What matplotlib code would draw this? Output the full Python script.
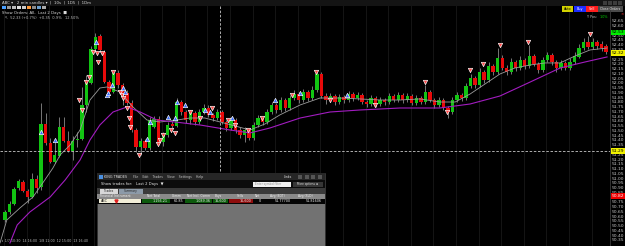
import matplotlib
matplotlib.use("Agg")
import matplotlib.pyplot as plt
from matplotlib.patches import Rectangle
import numpy as np

# ---------------- data ----------------
opens = [50.565, 50.649, 50.733, 50.901, 50.964, 50.870, 50.807, 50.996, 50.912, 51.573,
         51.374, 51.174, 51.237, 51.542, 51.395, 51.290, 51.405, 51.416, 51.773, 52.004,
         52.361, 52.497, 52.329, 52.014, 51.909, 52.109, 51.983, 51.899, 51.794, 51.510,
         51.332, 51.395, 51.321, 51.542, 51.626, 51.384, 51.458, 51.573, 51.552, 51.804,
         51.699, 51.615, 51.689, 51.594, 51.699, 51.741, 51.668, 51.636, 51.699, 51.594,
         51.531, 51.615, 51.510, 51.458, 51.510, 51.426, 51.563, 51.636, 51.594, 51.699,
         51.773, 51.720, 51.825, 51.741, 51.846, 51.888, 51.825, 51.909, 51.846, 51.930,
         52.098, 51.867, 51.825, 51.867, 51.804, 51.857, 51.825, 51.888, 51.846, 51.878,
         51.804, 51.783, 51.846, 51.783, 51.825, 51.804, 51.867, 51.825, 51.878, 51.825,
         51.867, 51.794, 51.846, 51.804, 51.909, 51.825, 51.773, 51.825, 51.741, 51.699,
         51.825, 51.878, 51.846, 51.972, 52.056, 51.983, 52.119, 52.035, 52.182, 52.119,
         52.266, 52.161, 52.119, 52.224, 52.161, 52.245, 52.182, 52.287, 52.203, 52.140,
         52.245, 52.298, 52.224, 52.161, 52.214, 52.161, 52.224, 52.277, 52.371, 52.434,
         52.382, 52.434, 52.413, 52.392]
closes = [50.649, 50.733, 50.891, 50.975, 50.870, 50.807, 50.996, 50.901, 51.573, 51.374,
          51.174, 51.248, 51.542, 51.395, 51.290, 51.395, 51.416, 51.773, 52.004, 52.361,
          52.487, 52.350, 52.014, 51.909, 52.109, 51.983, 51.878, 51.794, 51.510, 51.332,
          51.395, 51.321, 51.615, 51.626, 51.384, 51.458, 51.563, 51.552, 51.804, 51.699,
          51.615, 51.689, 51.594, 51.699, 51.741, 51.668, 51.636, 51.699, 51.594, 51.531,
          51.615, 51.510, 51.458, 51.510, 51.426, 51.563, 51.636, 51.594, 51.699, 51.773,
          51.720, 51.825, 51.741, 51.846, 51.888, 51.825, 51.909, 51.846, 51.930, 52.098,
          51.867, 51.825, 51.867, 51.804, 51.857, 51.825, 51.888, 51.846, 51.878, 51.804,
          51.783, 51.846, 51.783, 51.825, 51.804, 51.867, 51.825, 51.878, 51.825, 51.867,
          51.794, 51.846, 51.804, 51.909, 51.825, 51.773, 51.825, 51.741, 51.699, 51.825,
          51.878, 51.846, 51.972, 52.056, 51.983, 52.119, 52.035, 52.182, 52.119, 52.266,
          52.161, 52.119, 52.224, 52.161, 52.245, 52.182, 52.287, 52.203, 52.140, 52.245,
          52.298, 52.224, 52.161, 52.214, 52.161, 52.224, 52.287, 52.371, 52.434, 52.382,
          52.434, 52.392, 52.371, 52.329]
highs = [50.670, 50.765, 50.912, 50.996, 50.985, 50.891, 51.059, 51.038, 51.794, 51.689,
         51.426, 51.405, 51.647, 51.647, 51.500, 51.447, 51.489, 51.962, 52.088, 52.392,
         52.529, 52.518, 52.350, 52.035, 52.140, 52.140, 52.004, 51.930, 51.825, 51.531,
         51.426, 51.416, 51.647, 51.657, 51.657, 51.489, 51.594, 51.605, 51.846, 51.825,
         51.720, 51.720, 51.710, 51.731, 51.783, 51.773, 51.689, 51.731, 51.720, 51.615,
         51.647, 51.636, 51.542, 51.542, 51.531, 51.594, 51.668, 51.657, 51.731, 51.804,
         51.794, 51.857, 51.846, 51.878, 51.930, 51.909, 51.941, 51.930, 51.972, 52.140,
         52.119, 51.899, 51.899, 51.888, 51.888, 51.878, 51.920, 51.909, 51.909, 51.899,
         51.825, 51.878, 51.867, 51.857, 51.846, 51.899, 51.888, 51.909, 51.899, 51.899,
         51.888, 51.878, 51.867, 51.983, 51.930, 51.846, 51.857, 51.846, 51.762, 51.857,
         51.909, 51.899, 52.004, 52.098, 52.077, 52.161, 52.140, 52.224, 52.203, 52.371,
         52.298, 52.193, 52.266, 52.245, 52.287, 52.266, 52.403, 52.308, 52.224, 52.277,
         52.329, 52.319, 52.245, 52.245, 52.235, 52.266, 52.329, 52.413, 52.476, 52.497,
         52.476, 52.455, 52.445, 52.413]
lows = [50.544, 50.628, 50.723, 50.880, 50.859, 50.744, 50.796, 50.849, 50.880, 51.353,
        51.164, 51.164, 51.227, 51.384, 51.279, 51.195, 51.332, 51.405, 51.699, 51.993,
        52.350, 52.329, 52.004, 51.867, 51.899, 51.951, 51.773, 51.773, 51.489, 51.279,
        51.248, 51.300, 51.300, 51.531, 51.363, 51.342, 51.437, 51.531, 51.542, 51.668,
        51.584, 51.573, 51.563, 51.573, 51.678, 51.647, 51.605, 51.615, 51.573, 51.500,
        51.510, 51.479, 51.426, 51.384, 51.405, 51.405, 51.542, 51.563, 51.573, 51.678,
        51.689, 51.699, 51.710, 51.720, 51.825, 51.794, 51.804, 51.815, 51.825, 51.909,
        51.846, 51.783, 51.804, 51.773, 51.783, 51.794, 51.804, 51.815, 51.825, 51.783,
        51.752, 51.762, 51.752, 51.762, 51.773, 51.783, 51.804, 51.804, 51.794, 51.804,
        51.773, 51.773, 51.783, 51.783, 51.804, 51.741, 51.752, 51.720, 51.636, 51.678,
        51.804, 51.815, 51.825, 51.951, 51.951, 51.962, 52.004, 52.014, 52.088, 52.098,
        52.140, 52.088, 52.098, 52.130, 52.140, 52.151, 52.161, 52.182, 52.109, 52.119,
        52.224, 52.193, 52.119, 52.140, 52.140, 52.140, 52.203, 52.266, 52.350, 52.361,
        52.361, 52.361, 52.340, 52.308]

# moving-average lines (bar position, price)
ma_fast_x = [-1.1, 0.4, 3.3, 6.2, 8.8, 10.6, 12.2, 14.4, 16.6, 18.8, 21.0, 22.6, 25.4, 28.3,
             31.4, 34.3, 38.1, 40.9, 44.2, 47.6, 50.9, 54.2, 57.5, 60.8, 65.3, 69.7, 74.1,
             78.5, 83.0, 87.4, 91.8, 96.2, 99.6, 102.9, 106.2, 109.5, 112.8, 116.2, 119.5,
             122.8, 126.1, 129.4, 133.2]
ma_fast_y = [50.324, 50.565, 50.691, 50.807, 50.985, 51.111, 51.248, 51.353, 51.510, 51.825,
             51.951, 51.962, 51.909, 51.752, 51.615, 51.594, 51.615, 51.636, 51.636, 51.594,
             51.552, 51.510, 51.573, 51.668, 51.773, 51.846, 51.846, 51.836, 51.825, 51.825,
             51.836, 51.804, 51.804, 51.888, 51.993, 52.098, 52.161, 52.193, 52.214, 52.214,
             52.287, 52.350, 52.371]
ma_slow_x = [1.1, 2.7, 5.5, 10.0, 13.3, 16.6, 18.8, 21.0, 23.9, 27.0, 29.9, 33.6, 37.6, 43.1,
             49.8, 54.2, 58.6, 65.3, 71.9, 78.5, 87.4, 96.2, 102.9, 109.5, 116.2, 122.8,
             128.3, 133.2]
ma_slow_y = [50.324, 50.513, 50.649, 50.807, 50.985, 51.195, 51.405, 51.563, 51.699, 51.752,
             51.699, 51.615, 51.594, 51.563, 51.510, 51.479, 51.531, 51.636, 51.699, 51.720,
             51.741, 51.741, 51.783, 51.867, 52.014, 52.161, 52.224, 52.277]

# executions
sell_x = [16.4, 17.0, 17.9, 18.6, 19.5, 20.4, 21.5, 20.6, 23.9, 25.4, 25.9, 26.1, 27.0, 27.4,
          27.7, 29.6, 33.8, 34.3, 35.0, 36.7, 37.6, 40.9, 43.1, 45.8, 49.3, 50.9, 53.8, 56.9,
          63.5, 68.8, 71.9, 81.9, 92.9, 97.8, 102.9, 105.8, 109.5, 115.7, 129.4]
sell_y = [51.825, 51.720, 52.014, 52.067, 52.329, 52.319, 52.319, 52.224, 52.119, 51.909,
          51.878, 51.846, 51.741, 51.636, 51.542, 51.248, 51.363, 51.405, 51.458, 51.510,
          51.479, 51.699, 51.636, 51.741, 51.615, 51.563, 51.510, 51.636, 51.878, 52.119,
          51.825, 51.773, 52.014, 51.699, 52.140, 52.203, 52.403, 52.434, 52.518]
buy_x = [8.0, 11.1, 20.1, 22.6, 22.8, 23.7, 26.1, 26.5, 31.4, 32.1, 36.1, 37.6, 38.1, 39.8,
         44.2, 45.4, 50.2, 59.7, 65.3, 75.7]
buy_y = [51.489, 51.405, 52.434, 51.878, 51.899, 51.983, 51.951, 51.909, 51.416, 51.594,
         51.647, 51.636, 51.804, 51.773, 51.720, 51.699, 51.636, 51.825, 51.899, 51.878]

price_ticks = [round(50.35 + 0.05 * k, 2) for k in range(47)]
flag_prices = [52.534, 52.319, 51.290, 50.817]
flag_colors = ['#00ee00', '#f2f200', '#f2f200', '#ee0000']
flag_text = ['#000000', '#000000', '#000000', '#ffffff']

time_labels = "1/7 10:30  14 16:00  1/8 11:00  12 15:00  13 16:40"

trade_cols = ["Financial Instrument", "Net Total", "Comm", "Net Incl. Comm", "Buys", "Sells",
              "Net", "Avg (BOT)", "Avg (SLD)"]
trade_row = ["ABC", "1,156.21", "60.85", "1,089.36", "16,600", "16,600", "0",
             "51.77700", "51.81606"]

assert len(opens) == len(closes) == len(highs) == len(lows)

# ---------------- figure ----------------
W, H = 625, 246
fig = plt.figure(figsize=(W / 100, H / 100), dpi=100, facecolor='black')
plt.rcParams['font.family'] = ['DejaVu Sans']

ax = fig.add_axes([0, 0, 610 / W, 1])
ax.set_facecolor('black')
n = len(opens)
idx = np.arange(n)
ax.set_xlim(-5 / 4.52, 605 / 4.52)
ax.set_ylim(52.875 - 0.0105 * H, 52.875)
for s in ax.spines.values():
    s.set_visible(False)
ax.set_xticks([])
ax.set_yticks([])

# faint vertical grid
for gx in np.arange(-0.2, n + 1, 5):
    ax.axvline(gx, color='#191919', lw=0.6, zorder=0)

o = np.array(opens); c = np.array(closes)
up = c >= o
cols = np.where(up, '#12c412', '#e80a0a')
ax.vlines(idx, lows, highs, color='#8a8a8a', lw=0.6, zorder=2)
body = np.where(np.abs(c - o) < 0.006, 0.006, c - o)
ax.bar(idx, body, bottom=o, width=0.74, color=cols, linewidth=0, zorder=3)

ax.plot(ma_fast_x, ma_fast_y, color='#9c9c9c', lw=0.6, zorder=4)
ax.plot(ma_slow_x, ma_slow_y, color='#a21cc0', lw=0.8, zorder=4)

ax.plot(sell_x, sell_y, linestyle='none', marker='v', ms=3.2, mfc='#ff4a4a',
        mec='#ffffff', mew=0.45, zorder=6)
ax.plot(buy_x, buy_y, linestyle='none', marker='^', ms=3.2, mfc='#3a6cff',
        mec='#ffffff', mew=0.45, zorder=6)

# crosshair horizontal
ax.axhline(51.290, color='#c8c8c8', lw=0.6, dashes=(3, 2), zorder=5)

# price axis labels
yt = ax.get_yaxis_transform()
for p in price_ticks:
    if min(abs(p - f) for f in flag_prices) < 0.03:
        continue
    ax.text(1.0035, p, f"{p:.2f}", transform=yt, color='#c8c8c8', fontsize=3.2,
            va='center', ha='left', clip_on=False)
for p, fc, tc in zip(flag_prices, flag_colors, flag_text):
    ax.text(1.0035, p, f"{p:.2f}", transform=yt, color=tc, fontsize=3.2, va='center',
            ha='left', clip_on=False, zorder=7,
            bbox=dict(boxstyle='square,pad=0.2', fc=fc, ec='none'))

# ---------------- UI overlay in pixel coordinates ----------------
ui = fig.add_axes([0, 0, 1, 1], zorder=10)
ui.set_xlim(0, W)
ui.set_ylim(H, 0)
ui.axis('off')
ui.patch.set_alpha(0)

def box(x0, y0, x1, y1, fc, ec='none', lw=0.0, z=1):
    ui.add_patch(Rectangle((x0, y0), x1 - x0, y1 - y0, fc=fc, ec=ec, lw=lw, zorder=z))

def txt(x, y, s, color='#d0d0d0', size=3.0, ha='left', z=3, **kw):
    ui.text(x, y, s, color=color, fontsize=size, ha=ha, va='center', zorder=z, **kw)

# axis separator
ui.plot([610, 610], [6, H], color='#3a3a3a', lw=0.6)
# top bar
box(0, 0, W, 5.5, '#141414')
txt(2, 2.8, "ABC ▾   2 min candles ▾  |  10s  |  1D5  |  1Dm", size=2.8, color='#d8d8d8')
for k, colr in enumerate(['#4aa0ff', '#9a9a9a', '#bbbbbb', '#dddddd', '#cccccc', '#ff9a3a',
                          '#8a8a8a', '#6aa0d0', '#aaaaaa']):
    box(2 + k * 5, 5.8, 5.5 + k * 5, 9.2, colr, z=2)
txt(2, 13, "Show Orders: All,  Last 2 Days  ■", size=2.8, color='#d8d8d8')
txt(5, 18, "↖  52.33 (+0.7%)  +0.35  0.9%   12.50%", size=2.6, color='#bdbdbd')
for k in range(4):
    box(603 + k * 5, 1, 606.5 + k * 5, 4.5, '#3c3c3c', z=2)

# order buttons
box(562, 6, 573, 11.5, '#d2d200')
txt(567.5, 8.8, "Auto", color='#000000', size=2.4, ha='center')
box(573.5, 6, 585.5, 11.5, '#1c2cff')
txt(579.5, 8.8, "Buy", color='#ffffff', size=2.4, ha='center')
box(586, 6, 597.5, 11.5, '#ff1c1c')
txt(591.8, 8.8, "Sell", color='#ffffff', size=2.4, ha='center')
box(598, 6, 623, 11.5, '#4a4a4a')
txt(610.5, 8.8, "Close Orders", color='#e0e0e0', size=2.3, ha='center')
txt(622.5, 14.5, "×", color='#ff3030', size=2.8, ha='center')
txt(587, 17.5, "Y Pos:", color='#c8c8c8', size=2.4)
txt(599.5, 17.5, "1.0%", color='#00dd00', size=2.4)

# crosshair vertical
ui.plot([220, 220], [6, 173], color='#c8c8c8', lw=0.6, dashes=(3, 2), zorder=1)

# time labels
txt(1, 241.5, "↕ " + time_labels, size=2.3, color='#bdbdbd')

# ---------------- trades window ----------------
x0, x1 = 97, 325
box(x0, 173, x1, H, '#727272', ec='#303030', lw=0.5, z=1)
box(x0, 173, x1, 180, '#262626', z=2)
box(99, 174.5, 103, 178.5, '#4a90e0', z=3)
txt(104.5, 176.6, "KING TRADES", size=2.4, color='#e0e0e0')
txt(133, 176.6, "File    Edit    Trades    View    Settings    Help", size=2.3, color='#c0c0c0')
txt(284, 176.6, "Links", size=2.3, color='#e0e0e0')
for k in range(4):
    box(298 + k * 6.5, 175, 302 + k * 6.5, 178.5, '#555555', z=3)
box(x0, 180, x1, 188, '#0c0c0c', z=2)
txt(101, 184, "Show trades for:   Last 2 Days  ▼", size=2.7, color='#e6e6e6')
box(253, 181.5, 290.5, 187, '#f0f0f0', z=3)
txt(255, 184.3, "Enter symbol filter", size=2.1, color='#8a8a8a', z=4)
box(292.5, 181.5, 323, 187, '#363636', z=3)
txt(307.7, 184.3, "More options ≡", size=2.1, color='#e0e0e0', ha='center', z=4)
box(x0, 188, x1, 193.5, '#3a3a3a', z=2)
box(100, 188.8, 117.5, 193.5, '#d8d8d8', z=3)
txt(108.7, 191.2, "Trades", size=2.1, color='#202020', ha='center', z=4)
box(118.5, 188.8, 143, 193.5, '#8c9aa8', z=3)
txt(130.7, 191.2, "Summary", size=2.1, color='#202020', ha='center', z=4)
box(x0, 193.5, x1, 198.6, '#8a8a8a', z=2)
head_x = [100, 147, 172, 187, 215, 237, 255, 270, 298]
for hx, hs in zip(head_x, trade_cols):
    txt(hx, 196.1, hs, size=2.2, color='#f0f0f0')
box(x0, 198.6, x1, 203.6, '#050505', z=2)
box(99, 198.8, 141, 203.4, '#f2eed8', z=3)
txt(101, 201.2, trade_row[0], size=2.4, color='#202020', z=4)
ui.plot([116], [201.2], marker='v', ms=2.2, mfc='#e02020', mec='#e02020', zorder=5,
        linestyle='none')
cell_spans = [(142, 169.5), (170, 184.5), (185, 212), (212.5, 228), (228.5, 252.5),
              (253, 262), (262.5, 292), (292.5, 323)]
cell_fc = ['#0c5a0c', None, '#0c5a0c', '#0c5a0c', '#8e0c0c', None, None, None]
for (a, b), fc, val in zip(cell_spans, cell_fc, trade_row[1:]):
    if fc:
        box(a, 198.8, b, 203.4, fc, z=3)
    txt(b - 1.5, 201.2, val, size=2.4, color='#f0f0f0', ha='right', z=4)

fig.savefig("out.png", dpi=100, facecolor='black')
